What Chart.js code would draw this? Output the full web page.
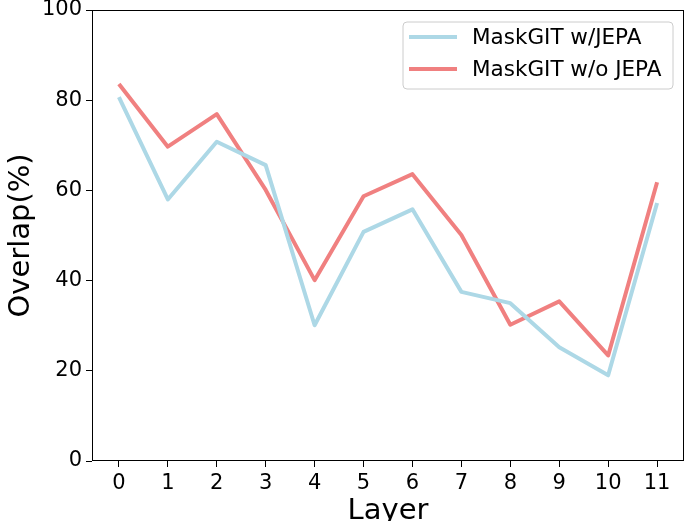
<!DOCTYPE html>
<html>
<head>
<meta charset="utf-8">
<script src="https://cdn.jsdelivr.net/npm/chart.js@4.4.1/dist/chart.umd.min.js"></script>
<style>
  html, body { margin: 0; padding: 0; background: #fff; }
  #wrap { width: 688px; height: 521px; }
</style>
</head>
<body>
<div id="wrap"><canvas id="chart" width="688" height="521"></canvas></div>
<script>
// Data
const layers = [0, 1, 2, 3, 4, 5, 6, 7, 8, 9, 10, 11];
const withJepa = [80.7, 58.0, 70.8, 65.6, 30.1, 50.8, 55.8, 37.5, 35.0, 25.2, 19.0, 57.2];
const withoutJepa = [83.6, 69.7, 76.9, 60.1, 40.1, 58.7, 63.6, 50.1, 30.2, 35.4, 23.4, 61.8];
const yTicks = [0, 20, 40, 60, 80, 100];

const FONT = "'DejaVu Sans', sans-serif";

// axis titles, frame and legend drawn like matplotlib
const decor = {
  id: 'decor',
  afterDraw(chart) {
    const ctx = chart.ctx;
    const a = chart.chartArea;
    ctx.save();

    // frame
    ctx.strokeStyle = '#000';
    ctx.lineWidth = 1;
    ctx.strokeRect(a.left + 0.5, a.top + 0.5, a.right - a.left - 1, a.bottom - a.top - 1);

    // axis titles
    ctx.fillStyle = '#000';
    ctx.font = '29px ' + FONT;
    ctx.textAlign = 'center';
    ctx.textBaseline = 'alphabetic';
    ctx.fillText('Layer', (a.left + a.right) / 2, 519);
    ctx.save();
    ctx.translate(29, (a.top + a.bottom) / 2);
    ctx.rotate(-Math.PI / 2);
    ctx.fillText('Overlap(%)', 0, 0);
    ctx.restore();

    // legend box
    const bx = 403, by = 22, bw = 270, bh = 67, r = 4;
    ctx.beginPath();
    ctx.moveTo(bx + r, by);
    ctx.arcTo(bx + bw, by, bx + bw, by + bh, r);
    ctx.arcTo(bx + bw, by + bh, bx, by + bh, r);
    ctx.arcTo(bx, by + bh, bx, by, r);
    ctx.arcTo(bx, by, bx + bw, by, r);
    ctx.closePath();
    ctx.fillStyle = 'rgba(255,255,255,0.8)';
    ctx.fill();
    ctx.strokeStyle = '#cccccc';
    ctx.lineWidth = 1;
    ctx.stroke();

    ctx.font = '21.5px ' + FONT;
    ctx.textAlign = 'left';
    ctx.textBaseline = 'middle';
    chart.data.datasets.forEach((ds, i) => {
      const y = 37 + i * 32;
      ctx.strokeStyle = ds.borderColor;
      ctx.lineWidth = 4;
      ctx.beginPath();
      ctx.moveTo(409, y);
      ctx.lineTo(457, y);
      ctx.stroke();
      ctx.fillStyle = '#000';
      ctx.fillText(ds.label, 472, y + 1);
    });

    ctx.restore();
  }
};

new Chart(document.getElementById('chart'), {
  type: 'line',
  data: {
    datasets: [
      {
        label: 'MaskGIT w/JEPA',
        data: layers.map((x, i) => ({ x, y: withJepa[i] })),
        borderColor: '#ADD8E6',
        borderWidth: 4,
        pointRadius: 0,
        tension: 0,
        borderJoinStyle: 'round'
      },
      {
        label: 'MaskGIT w/o JEPA',
        data: layers.map((x, i) => ({ x, y: withoutJepa[i] })),
        borderColor: '#F08080',
        borderWidth: 4,
        pointRadius: 0,
        tension: 0,
        borderJoinStyle: 'round'
      }
    ]
  },
  options: {
    responsive: false,
    animation: false,
    devicePixelRatio: 1,
    layout: { autoPadding: false, padding: { left: 0, top: 10, right: 4, bottom: 0 } },
    plugins: {
      legend: { display: false },
      tooltip: { enabled: false }
    },
    scales: {
      x: {
        type: 'linear',
        min: -0.55,
        max: 11.55,
        afterBuildTicks: (scale) => { scale.ticks = layers.map(v => ({ value: v })); },
        afterFit: (scale) => { scale.height = 60; scale.paddingLeft = 0; scale.paddingRight = 0; },
        grid: { drawOnChartArea: false, color: '#000', tickLength: 6, tickWidth: 1 },
        border: { display: false },
        ticks: { color: '#000', font: { family: FONT, size: 21 }, padding: 4, maxRotation: 0, autoSkip: false }
      },
      y: {
        min: 0,
        max: 100,
        afterBuildTicks: (scale) => { scale.ticks = yTicks.map(v => ({ value: v })); },
        afterFit: (scale) => { scale.width = 92; scale.paddingTop = 0; scale.paddingBottom = 0; },
        grid: { drawOnChartArea: false, color: '#000', tickLength: 6, tickWidth: 1 },
        border: { display: false },
        ticks: { color: '#000', font: { family: FONT, size: 21 }, padding: 4 }
      }
    }
  },
  plugins: [decor]
});
</script>
</body>
</html>
